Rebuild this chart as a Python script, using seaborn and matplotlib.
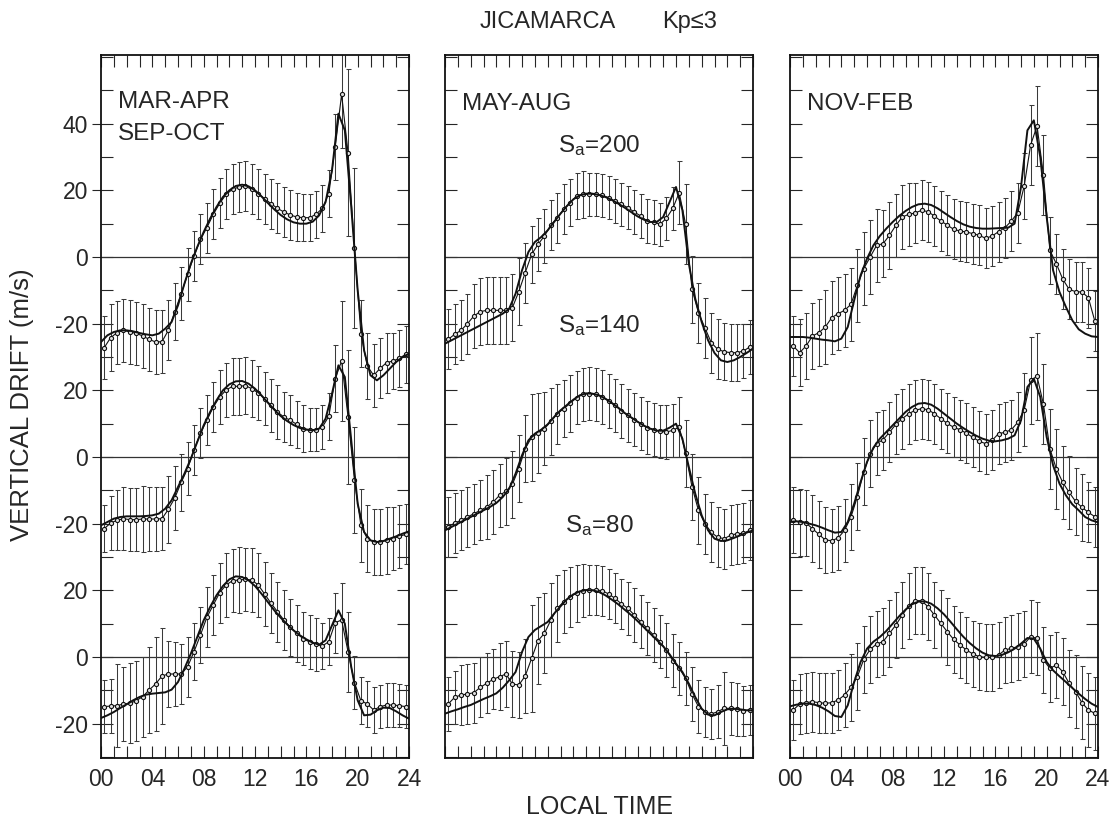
import numpy as np
import matplotlib
matplotlib.use("Agg")
import matplotlib.pyplot as plt
from matplotlib.ticker import MultipleLocator, FixedLocator, FixedFormatter, FuncFormatter
import seaborn as sns

sns.set_style("ticks")
plt.rcParams["font.family"] = ["Liberation Sans", "DejaVu Sans"]
plt.rcParams["mathtext.fontset"] = "custom"
plt.rcParams["mathtext.rm"] = "Liberation Sans"
plt.rcParams["mathtext.it"] = "Liberation Sans:italic"

# Local time of the half-hourly averages and of the model evaluation
hours_obs = np.arange(0.25, 24.0, 0.5)
hours_model = np.arange(0.0, 24.01, 0.5)

season_names = ["MAR-APR\nSEP-OCT", "MAY-AUG", "NOV-FEB"]
flux_levels = [200, 140, 80]
flux_offsets = [120, 60, 0]

# ---------------- Equinox (MAR-APR, SEP-OCT) ----------------
eq_obs_200 = [-27.2, -24.2, -22.7, -22.0, -22.5, -22.9, -23.7, -24.7, -25.5, -25.4,
              -22.0, -16.4, -11.0, -5.2, 0.3, 5.3, 8.8, 12.8, 16.1, 18.8,
              20.3, 21.0, 21.2, 20.3, 19.0, 17.5, 16.0, 14.6, 13.5, 12.6,
              12.0, 11.8, 11.8, 12.8, 14.6, 19.0, 33.0, 48.8, 31.3, 2.8,
              -23.0, -32.7, -35.5, -33.4, -31.7, -31.2, -30.4, -29.2]
eq_err_200 = [9.5, 10, 9.5, 9.5, 9.5, 9.5, 9.5, 9.5, 9.5, 9.5,
              9, 8.5, 8, 8, 7.5, 7.5, 7.5, 7.5, 7.5, 7.5,
              7.5, 7.5, 7.5, 7.5, 7.5, 7.5, 7.5, 7.5, 7.5, 7.5,
              7.3, 7, 7, 7, 7, 7, 10, 16, 25, 24,
              10, 10, 9.5, 9, 9, 8.5, 8.5, 8.5]
eq_mod_200 = [-25.5, -23.5, -22.5, -22, -22, -22.3, -22.8, -23.2, -23.5, -23,
              -21.5, -19.5, -14.5, -8, -2, 3, 7.5, 11.5, 15, 18,
              20, 21.3, 21.7, 21.2, 20, 18.2, 16.2, 14.3, 12.6, 11.3,
              10.4, 10, 10, 10.6, 12.5, 16.5, 26, 43, 38, 15,
              -10, -28, -35.5, -37, -35.5, -33.5, -31.5, -30, -29]

eq_obs_140 = [-21.5, -19.8, -19.0, -18.5, -18.8, -18.8, -18.6, -18.6, -18.6, -18.5,
              -15.7, -12.3, -7.6, -3.5, 2.2, 7.1, 11.0, 15.0, 18.0, 20.1,
              21.2, 21.2, 21.4, 20.5, 19.2, 17.5, 15.5, 13.5, 12.0, 11.0,
              9.8, 8.5, 8.2, 8.2, 9.0, 12.2, 23.5, 28.8, 12.0, -6.9,
              -20.5, -24.5, -25.5, -25.5, -25.0, -24.5, -23.8, -23.2]
eq_err_140 = [7, 8, 9, 9.5, 9.5, 9.5, 10, 9.5, 9.5, 9.5,
              10, 9.5, 8.5, 8, 7.5, 7.5, 7.5, 7.5, 8, 8,
              8.5, 8.5, 8.5, 8.5, 8, 8, 8, 8, 7.5, 7.5,
              7, 7, 6.5, 6.5, 6.5, 7, 10, 18, 20, 16,
              11, 10, 10, 10, 10, 9.5, 9.5, 9]
eq_mod_140 = [-20.5, -19.5, -18.5, -18, -17.8, -17.8, -17.8, -17.7, -17.5, -17,
              -15.5, -13, -9, -5, -0.5, 4.5, 9.5, 13.5, 17, 20,
              21.8, 22.7, 22.8, 22, 20.5, 18.5, 16.3, 14.2, 12.3, 10.8,
              9.6, 8.7, 8.2, 8, 8.5, 11.5, 19, 27.5, 24, 5,
              -14, -22.5, -25, -25.5, -25.2, -24.5, -23.8, -23, -22.3]

eq_obs_80 = [-14.9, -14.7, -14.6, -14.1, -13.9, -13.1, -11.9, -9.9, -8.1, -5.7,
             -5.1, -5.1, -5.1, -2.9, 1.6, 6.6, 11.9, 15.6, 19.3, 21.6,
             22.9, 23.1, 23.3, 23.1, 21.6, 18.9, 16.1, 13.6, 11.1, 8.9,
             7.1, 5.5, 4.5, 3.8, 3.3, 4.6, 10.3, 11.1, 1.6, -7.7,
             -13.1, -14.1, -15.9, -14.9, -14.4, -14.4, -14.6, -14.9]
eq_err_80 = [8, 8, 12.5, 11, 12, 12, 12, 13, 14, 14.5,
             10, 9.5, 9, 9, 8.5, 8.5, 9, 9, 9, 9.5,
             9.5, 9.8, 9.5, 9.5, 9.5, 9.5, 9, 9, 9, 8.5,
             8.5, 8, 8, 8, 7, 7, 9, 11, 12, 8,
             7, 7, 7, 6.5, 6.5, 6.5, 6.5, 6.5]
eq_mod_80 = [-18.3, -17.5, -16.5, -15.3, -14.2, -13, -12, -11.3, -11, -10.8,
             -10.6, -9.8, -7.5, -3.5, 1, 6, 11, 15, 18.5, 21.3,
             23.3, 24.2, 24, 23, 21.3, 19, 16.5, 14, 11.8, 9.8,
             8, 6.5, 5.3, 4.3, 3.7, 5, 9.5, 14, 10, -3,
             -13, -17.5, -17.3, -16, -15.2, -15.3, -16.3, -17.5, -18.5]

# ---------------- June solstice (MAY-AUG) ----------------
jun_obs_200 = [-24.7, -23.2, -22.0, -20.0, -17.7, -16.4, -16.0, -16.0, -16.0, -16.0,
               -15.2, -10.4, -4.7, 0.8, 3.8, 6.3, 9.6, 11.8, 14.3, 16.3,
               18.3, 18.8, 18.8, 18.8, 18.5, 17.8, 16.8, 15.8, 14.8, 13.5,
               12.3, 10.8, 10.5, 9.8, 11.6, 14.6, 19.3, 9.8, -9.7, -16.7,
               -21.2, -25.7, -27.7, -28.4, -28.7, -28.7, -28.2, -27.0]
jun_err_200 = [9, 9, 9, 9, 9.5, 10, 10, 10, 10, 10,
               10, 10, 9, 8.5, 8, 8, 7.5, 7.5, 7.5, 7,
               7, 7, 6.5, 6.5, 6.5, 6.5, 6.5, 6.5, 6.5, 6.5,
               6.5, 6.5, 6.5, 6.5, 6.5, 6.5, 9.5, 12, 10, 9,
               9, 9, 9, 8.5, 8.5, 8.5, 8, 8]
jun_mod_200 = [-26, -25, -24, -23, -22, -21, -20, -19, -18, -17,
               -15.5, -11, -4, 1.5, 4.5, 6, 8, 10.5, 13, 15.3,
               17.3, 18.5, 19, 19, 18.6, 18, 17.1, 16, 14.8, 13.5,
               12.2, 11.2, 10.5, 10.5, 12, 16.5, 21, 14, -2, -12.5,
               -19.5, -25, -28.8, -31, -31.5, -31, -30, -28.8, -27.5]

jun_obs_140 = [-21.0, -19.8, -19.0, -18.0, -17.0, -16.0, -15.0, -13.5, -11.5, -10.3,
               -8.2, -3.5, 2.5, 5.9, 7.1, 8.5, 10.7, 13.0, 14.5, 16.1,
               17.8, 18.8, 19.0, 18.8, 18.0, 16.8, 15.5, 13.8, 12.5, 11.2,
               10.0, 8.8, 8.2, 7.7, 7.5, 8.0, 9.0, 1.1, -9.0, -16.0,
               -20.0, -22.6, -24.1, -24.5, -23.5, -23.0, -22.9, -22.0]
jun_err_140 = [9, 9, 9, 9, 9, 9, 9.5, 9.5, 9.5, 10,
               10, 10, 10, 13, 12, 11, 10, 9, 8.5, 8.5,
               8, 8, 8, 8, 8, 8, 8, 8, 8, 8,
               8, 8, 8, 8, 8, 8, 9, 10, 10, 10,
               9, 9, 9, 9, 9, 9, 9, 9]
jun_mod_140 = [-22, -21, -20, -19, -18, -17, -16, -15, -13.8, -12,
               -9.5, -5, 0.5, 5, 7, 8.2, 9.8, 12, 14, 15.6,
               17.2, 18.5, 19.1, 19, 18.5, 17.5, 16.2, 14.8, 13.2, 11.9,
               10.6, 9.4, 8.5, 7.9, 7.9, 8.8, 10, 5.5, -3, -11,
               -17.5, -22, -24.5, -25.2, -25, -24.3, -23.5, -22.7, -22]

jun_obs_80 = [-14.1, -12.1, -11.4, -11.1, -10.7, -9.1, -7.9, -6.7, -5.9, -5.1,
              -8.1, -8.4, -5.7, -0.4, 4.9, 7.1, 11.1, 14.6, 16.6, 18.1,
              19.1, 19.9, 20.1, 20.1, 19.9, 18.9, 17.6, 15.9, 14.6, 12.6,
              10.6, 8.6, 6.6, 4.6, 2.1, -1.1, -3.4, -6.4, -11.1, -14.9,
              -16.4, -17.1, -16.4, -15.4, -15.4, -15.7, -16.1, -15.9]
jun_err_80 = [8, 8, 9, 9, 9, 9, 9, 9, 10, 10,
              10, 10, 11, 16, 13, 12, 11, 10, 9.5, 9,
              8.5, 8, 7.5, 7.5, 7.5, 7.5, 7.5, 7.5, 8, 8,
              8, 8, 8, 8, 8, 8, 8, 8, 8, 8,
              7.5, 7.5, 8, 11, 8, 8, 7.5, 7.5]
jun_mod_80 = [-17, -16.3, -15.7, -15, -14.4, -13.5, -12.6, -11.8, -10.9, -9.2,
              -7, -4.5, 1.5, 6, 8.1, 9.3, 10.5, 13, 15.2, 17.3,
              18.8, 19.7, 20.1, 20, 19.5, 18.5, 17.2, 15.8, 14.2, 12.6,
              10.8, 8.9, 7, 5.1, 3.2, 0.8, -2, -4.5, -8, -12,
              -15.5, -17.3, -17.5, -16.5, -15.7, -15.5, -15.7, -16, -16]

# ---------------- December solstice (NOV-FEB) ----------------
dec_obs_200 = [-26.7, -28.7, -26.7, -23.7, -22.7, -21.0, -18.2, -17.0, -16.0, -14.2,
               -8.5, -3.5, 0.0, 3.5, 4.0, 6.5, 9.5, 12.0, 12.8, 13.2,
               14.0, 13.6, 12.3, 10.8, 9.6, 8.3, 7.8, 7.5, 7.0, 6.5,
               5.6, 6.3, 7.6, 8.8, 10.8, 13.3, 21.3, 33.6, 39.3, 24.6,
               2.0, -2.0, -6.6, -9.7, -10.4, -10.5, -12.2, -19.2]
dec_err_200 = [9, 10, 10, 10, 10, 11, 11, 11, 11, 11,
               11, 11, 11, 11, 10, 10, 9.5, 9.5, 9.5, 9,
               9, 9, 9, 9, 9, 9, 9, 9, 9, 9,
               9, 9, 9, 9, 9, 9, 10, 12, 12, 12,
               10, 9, 9, 9, 9, 9, 9, 9]
dec_mod_200 = [-24, -24, -24, -24.2, -24.5, -24.8, -25, -25.3, -24.5, -21,
               -13, -5.5, -0.5, 3.5, 6.3, 8.5, 10.5, 12.3, 13.8, 15,
               15.8, 16, 15.6, 14.6, 13.3, 12, 10.8, 9.8, 9.1, 8.7,
               8.5, 8.5, 8.6, 8.7, 8.8, 10, 21, 38, 41, 30,
               12, -4, -10.5, -15, -19, -21.7, -23, -23.8, -24]

dec_obs_140 = [-18.9, -19.6, -19.8, -21.5, -23.2, -24.9, -25.1, -24.3, -22.0, -18.0,
               -11.9, -4.4, 1.0, 4.0, 5.2, 7.4, 9.8, 11.5, 13.0, 14.0,
               14.5, 14.2, 13.0, 11.5, 10.1, 8.9, 8.2, 7.1, 5.9, 4.7,
               4.0, 5.0, 7.0, 7.4, 8.2, 10.4, 14.2, 23.0, 24.2, 15.8,
               2.5, -3.5, -7.6, -10.6, -13.3, -15.1, -16.6, -17.9]
dec_err_140 = [10, 10, 10, 10, 10, 10, 9.5, 9.5, 9.5, 10,
               10, 10, 10, 9.5, 9, 9, 9, 9, 9, 9,
               9, 9, 9, 9, 9, 9, 9, 9, 9, 9,
               9, 9, 9, 9, 9, 9, 11, 13, 13, 12,
               12, 12, 11, 11, 10, 10, 9, 9]
dec_mod_140 = [-19.5, -19.3, -19.5, -20, -20.5, -21.2, -22, -22.7, -22.5, -19.5,
               -14, -7.5, -1.5, 2.8, 5.5, 7.5, 9.5, 11.5, 13.5, 15,
               16, 16.2, 15.7, 14.5, 13, 11.5, 10, 8.7, 7.5, 6.4,
               5.5, 4.9, 4.7, 5, 5.5, 6.5, 11, 21, 23.5, 18,
               6, -2.5, -8, -11.5, -14.2, -16, -18, -19, -19.6]

dec_obs_80 = [-15.9, -14.1, -13.7, -13.4, -13.7, -13.9, -13.7, -12.9, -11.4, -9.1,
              -5.9, -0.7, 2.3, 3.9, 4.6, 7.1, 9.6, 12.6, 15.3, 16.9,
              16.9, 15.1, 12.6, 10.1, 7.6, 5.3, 3.6, 2.1, 0.9, 0.1,
              -0.1, -0.1, 0.6, 2.1, 2.6, 3.1, 3.9, 6.1, 5.6, -0.9,
              -3.4, -2.4, -4.4, -7.9, -10.4, -13.7, -15.9, -16.9]
dec_err_80 = [9, 9, 9, 9, 9, 9, 9, 9, 9.5, 10,
              10, 10, 10, 10, 10, 10, 10, 10, 10, 10,
              10, 10, 10, 10, 10, 10, 10, 10, 10, 10,
              10, 10, 10, 10, 10, 10, 10, 11, 11, 10,
              10, 10, 10, 10, 11, 11, 11, 11]
dec_mod_80 = [-14.8, -14.3, -14, -14, -14.4, -15.2, -16.3, -17.7, -18, -14.5,
              -7.5, -1.5, 2.5, 4.6, 6, 7.8, 10, 12.2, 14.2, 15.8,
              16.6, 16.7, 16, 14.6, 12.8, 10.6, 8.3, 6.1, 4.2, 2.6,
              1.3, 0.5, 0.3, 0.6, 1.4, 2.5, 4, 5.7, 5.5, 2.5,
              -1.5, -4, -5.8, -7.5, -9.3, -11, -12.6, -14, -15]

panels = [
    [(eq_obs_200, eq_err_200, eq_mod_200), (eq_obs_140, eq_err_140, eq_mod_140),
     (eq_obs_80, eq_err_80, eq_mod_80)],
    [(jun_obs_200, jun_err_200, jun_mod_200), (jun_obs_140, jun_err_140, jun_mod_140),
     (jun_obs_80, jun_err_80, jun_mod_80)],
    [(dec_obs_200, dec_err_200, dec_mod_200), (dec_obs_140, dec_err_140, dec_mod_140),
     (dec_obs_80, dec_err_80, dec_mod_80)],
]

# y tick labels repeat for each stacked curve
ytick_pos = [-20, 0, 20, 40, 60, 80, 100, 120, 140, 160]
ytick_lab = ["-20", "0", "20", "-20", "0", "20", "-20", "0", "20", "40"]

W, H = 1116, 819
fig = plt.figure(figsize=(W / 100, H / 100), dpi=100)
lefts = [101, 445, 790]
ax_w = 308
ax_bottom, ax_top = 758, 55
label_fs = 17.5

for i, (left, series) in enumerate(zip(lefts, panels)):
    ax = fig.add_axes([left / W, 1 - ax_bottom / H, ax_w / W, (ax_bottom - ax_top) / H])
    for off in flux_offsets:
        ax.axhline(off, color="#333333", lw=0.9, zorder=1)
    for (obs, err, mod), off in zip(series, flux_offsets):
        yo = np.asarray(obs) + off
        ax.errorbar(hours_obs, yo, yerr=err, fmt="none", ecolor="#3a3a3a",
                    elinewidth=0.75, capsize=1.8, capthick=0.75, zorder=2)
        sns.lineplot(x=hours_obs, y=yo, ax=ax, color="#111111", lw=0.8,
                     marker="o", markersize=3.0, markerfacecolor="#dddddd",
                     markeredgecolor="#111111", markeredgewidth=0.8, zorder=3)
        sns.lineplot(x=hours_model, y=np.asarray(mod) + off, ax=ax,
                     color="#111111", lw=1.4, zorder=4)

    ax.set_xlim(0, 24)
    ax.set_ylim(-30.3, 180.6)
    ax.set_xlabel("")
    ax.set_ylabel("")

    ax.xaxis.set_major_locator(MultipleLocator(4))
    ax.xaxis.set_minor_locator(MultipleLocator(1))
    ax.xaxis.set_major_formatter(FuncFormatter(lambda v, p: f"{int(round(v)):02d}"))
    ax.tick_params(axis="x", which="both", direction="in", top=True, bottom=True,
                   length=8.5, width=0.8, labelsize=16.5, pad=7)
    if i == 1:
        ax.tick_params(axis="x", labelbottom=False)

    ax.yaxis.remove_overlapping_locs = False
    ax.yaxis.set_minor_locator(MultipleLocator(10))
    ax.tick_params(axis="y", which="minor", direction="in", left=True, right=True,
                   length=8.5, width=0.8)
    ax.yaxis.set_major_locator(FixedLocator(ytick_pos))
    if i == 0:
        ax.yaxis.set_major_formatter(FixedFormatter(ytick_lab))
        ax.tick_params(axis="y", which="major", direction="out", left=True, right=False,
                       length=6.5, width=0.8, labelsize=16.5, pad=3)
    else:
        ax.tick_params(axis="y", which="major", left=False, right=False,
                       labelleft=False, length=0)

    for sp in ax.spines.values():
        sp.set_linewidth(1.3)
        sp.set_color("#111111")
        sp.set_visible(True)

    if i == 0:
        ax.text(1.3, 164.6, "MAR-APR", fontsize=label_fs, ha="left", va="baseline")
        ax.text(1.3, 155.0, "SEP-OCT", fontsize=label_fs, ha="left", va="baseline")
    elif i == 1:
        ax.text(1.3, 164.1, "MAY-AUG", fontsize=label_fs, ha="left", va="baseline")
        for sa, yb in zip(flux_levels, [151.5, 97.6, 37.6]):
            ax.text(12.0, yb, r"S$_{\mathrm{a}}$=" + str(sa), fontsize=label_fs,
                    ha="center", va="baseline")
    else:
        ax.text(1.3, 164.1, "NOV-FEB", fontsize=label_fs, ha="left", va="baseline")

fig.text(547.5 / W, 1 - 22 / H, "JICAMARCA", fontsize=17, ha="center", va="center")
fig.text(690 / W, 1 - 22 / H, "Kp\u22643", fontsize=17, ha="center", va="center")
fig.text(22 / W, 1 - 405 / H, "VERTICAL DRIFT (m/s)", fontsize=18.5, rotation=90,
         ha="center", va="center")
fig.text(599 / W, 1 - 807 / H, "LOCAL TIME", fontsize=18, ha="center", va="center")

fig.savefig("out.png", dpi=100, facecolor="white")
